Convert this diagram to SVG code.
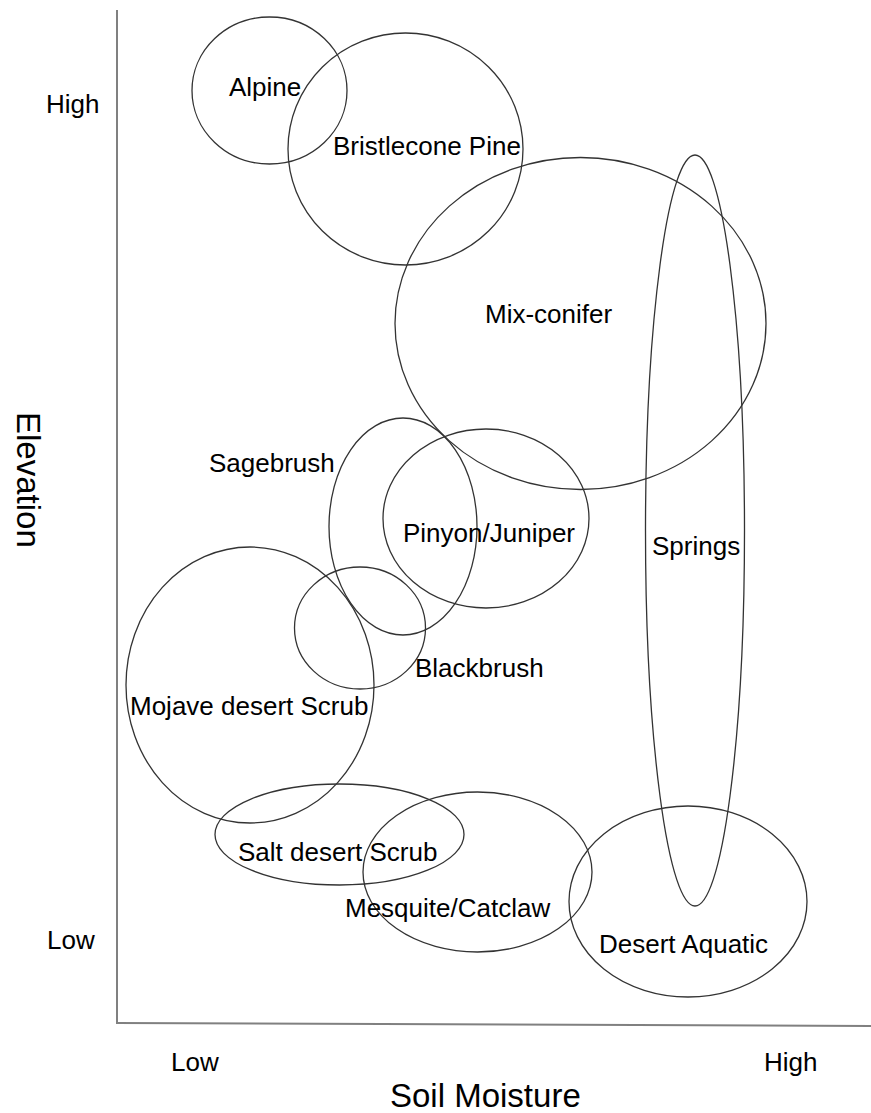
<svg xmlns="http://www.w3.org/2000/svg" width="871" height="1113" viewBox="0 0 871 1113">
<style>
.zone{fill:none;stroke:#333;stroke-width:1.3}
.axis{stroke:#808080;stroke-width:2;fill:none}
text{font-family:"Liberation Sans",Arial,sans-serif;fill:#000}
.lbl{font-size:26px}
.ttl{font-size:33px}
</style>
<rect width="871" height="1113" fill="#fff"/>
<g id="axes">
<line class="axis" x1="117" y1="10" x2="117" y2="1023"/>
<line class="axis" x1="116" y1="1023" x2="871" y2="1026"/>
<text class="lbl" x="46" y="113">High</text>
<text class="lbl" x="47" y="949">Low</text>
<text class="lbl" x="171" y="1071">Low</text>
<text class="lbl" x="764" y="1071">High</text>
<text class="ttl" x="390" y="1107">Soil Moisture</text>
<text class="ttl" transform="translate(17,412) rotate(90)">Elevation</text>
</g>
<g id="connectors"></g>
<g id="alpine"><ellipse class="zone" cx="269.5" cy="90.5" rx="77.5" ry="73.5"/><text class="lbl" x="229" y="96">Alpine</text></g>
<g id="bristlecone"><ellipse class="zone" cx="405.5" cy="149" rx="117.5" ry="116"/><text class="lbl" x="333" y="155">Bristlecone Pine</text></g>
<g id="mixconifer"><ellipse class="zone" cx="580.5" cy="323.5" rx="185.5" ry="166"/><text class="lbl" x="485" y="323">Mix-conifer</text></g>
<g id="springs"><ellipse class="zone" cx="695" cy="530.5" rx="49.5" ry="375.5"/><text class="lbl" x="652" y="555">Springs</text></g>
<g id="sagebrush"><ellipse class="zone" cx="403" cy="526.5" rx="74" ry="108.5"/><text class="lbl" x="209" y="472">Sagebrush</text></g>
<g id="pinyon"><ellipse class="zone" cx="486" cy="518.5" rx="103" ry="89.5"/><text class="lbl" x="403" y="542">Pinyon/Juniper</text></g>
<g id="blackbrush"><ellipse class="zone" cx="360" cy="628" rx="65.5" ry="61"/><text class="lbl" x="415" y="677">Blackbrush</text></g>
<g id="mojave"><ellipse class="zone" cx="250" cy="685" rx="124" ry="138"/><text class="lbl" x="130" y="715">Mojave desert Scrub</text></g>
<g id="saltdesert"><ellipse class="zone" cx="339.5" cy="834.5" rx="124.5" ry="50.5"/><text class="lbl" x="238" y="861">Salt desert Scrub</text></g>
<g id="mesquite"><ellipse class="zone" cx="477.5" cy="872" rx="114.5" ry="80"/><text class="lbl" x="345" y="917">Mesquite/Catclaw</text></g>
<g id="desertaquatic"><ellipse class="zone" cx="688" cy="901.5" rx="119" ry="95.5"/><text class="lbl" x="599" y="953">Desert Aquatic</text></g>
</svg>
